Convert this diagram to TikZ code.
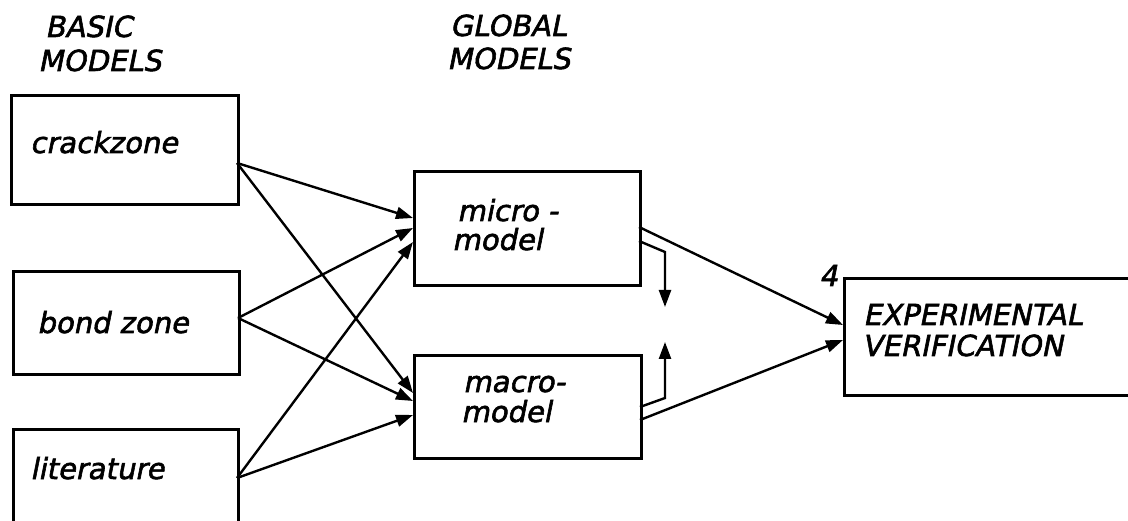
\documentclass[tikz,border=0pt]{standalone}
\usepackage{fontspec}
\usetikzlibrary{arrows.meta}
\newfontfamily\din[FakeSlant=0.2,FakeBold=2]{DejaVu Sans}
\begin{document}
\begin{tikzpicture}[x=1pt,y=-1pt,
  box/.style={draw,line width=3.2pt,inner sep=0pt},
  conn/.style={line width=2.4pt,-{Triangle[length=17pt,width=12pt]}},
  lbl/.style={anchor=base west,inner sep=0pt,font=\din\fontsize{29}{34}\selectfont}]
\useasboundingbox (0,0) rectangle (1128,521);
\clip (0,0) rectangle (1128,521);
% boxes
\node[box,anchor=north west,minimum width=227pt,minimum height=109pt] (crack) at (10,94) {};
\node[box,anchor=north west,minimum width=226pt,minimum height=103pt] (bond) at (12,270) {};
\node[box,anchor=north west,minimum width=225pt,minimum height=112pt] (lit) at (12,428) {};
\node[box,anchor=north west,minimum width=226pt,minimum height=114pt] (micro) at (413,170) {};
\node[box,anchor=north west,minimum width=227pt,minimum height=103pt] (macro) at (413,354) {};
\node[box,anchor=north west,minimum width=297pt,minimum height=117pt] (exp) at (843,277) {};
% headers
\node[lbl] (h1a) at (45,37) {BASIC};
\node[lbl] (h1b) at (38,71) {MODELS};
\node[lbl] (h2a) at (450,36) {GLOBAL};
\node[lbl] (h2b) at (447,69) {MODELS};
% labels
\node[lbl] (t1) at (30,153) {crackzone};
\node[lbl] (t2) at (37,333) {bond zone};
\node[lbl] (t3) at (30,479) {literature};
\node[lbl] (t4a) at (457,221) {micro -};
\node[lbl] (t4b) at (452,250) {model};
\node[lbl] (t5a) at (463,392) {macro-};
\node[lbl] (t5b) at (461,422) {model};
\node[lbl] (t6a) at (863,325) {EXPERIMENTAL};
\node[lbl] (t6b) at (862,356) {VERIFICATION};
\node[lbl] (four) at (819,286) {4};
% connector points
\coordinate (crackout) at (237,163);
\coordinate (bondout) at (238,318);
\coordinate (litout) at (237,478);
\coordinate (microin1) at (413,218);
\coordinate (microin2) at (413,228);
\coordinate (microin3) at (413,242);
\coordinate (macroin1) at (413,393);
\coordinate (macroin2) at (413,401);
\coordinate (macroin3) at (413,415);
\coordinate (microout1) at (639,227);
\coordinate (microout2) at (639,241);
\coordinate (macroout1) at (640,407);
\coordinate (macroout2) at (640,420);
\coordinate (expin1) at (843,325);
\coordinate (expin2) at (843,340);
\coordinate (bendd) at (665,252);
\coordinate (tipd) at (665,307);
\coordinate (bendu) at (665,398);
\coordinate (tipu) at (665,342);
% connectors
\draw[conn] (crackout) -- (microin1);
\draw[conn] (crackout) -- (macroin1);
\draw[conn] (bondout) -- (microin2);
\draw[conn] (bondout) -- (macroin2);
\draw[conn] (litout) -- (microin3);
\draw[conn] (litout) -- (macroin3);
\draw[conn] (microout1) -- (expin1);
\draw[conn] (macroout2) -- (expin2);
\draw[conn] (microout2) -- (bendd) -- (tipd);
\draw[conn] (macroout1) -- (bendu) -- (tipu);
\end{tikzpicture}
\end{document}
